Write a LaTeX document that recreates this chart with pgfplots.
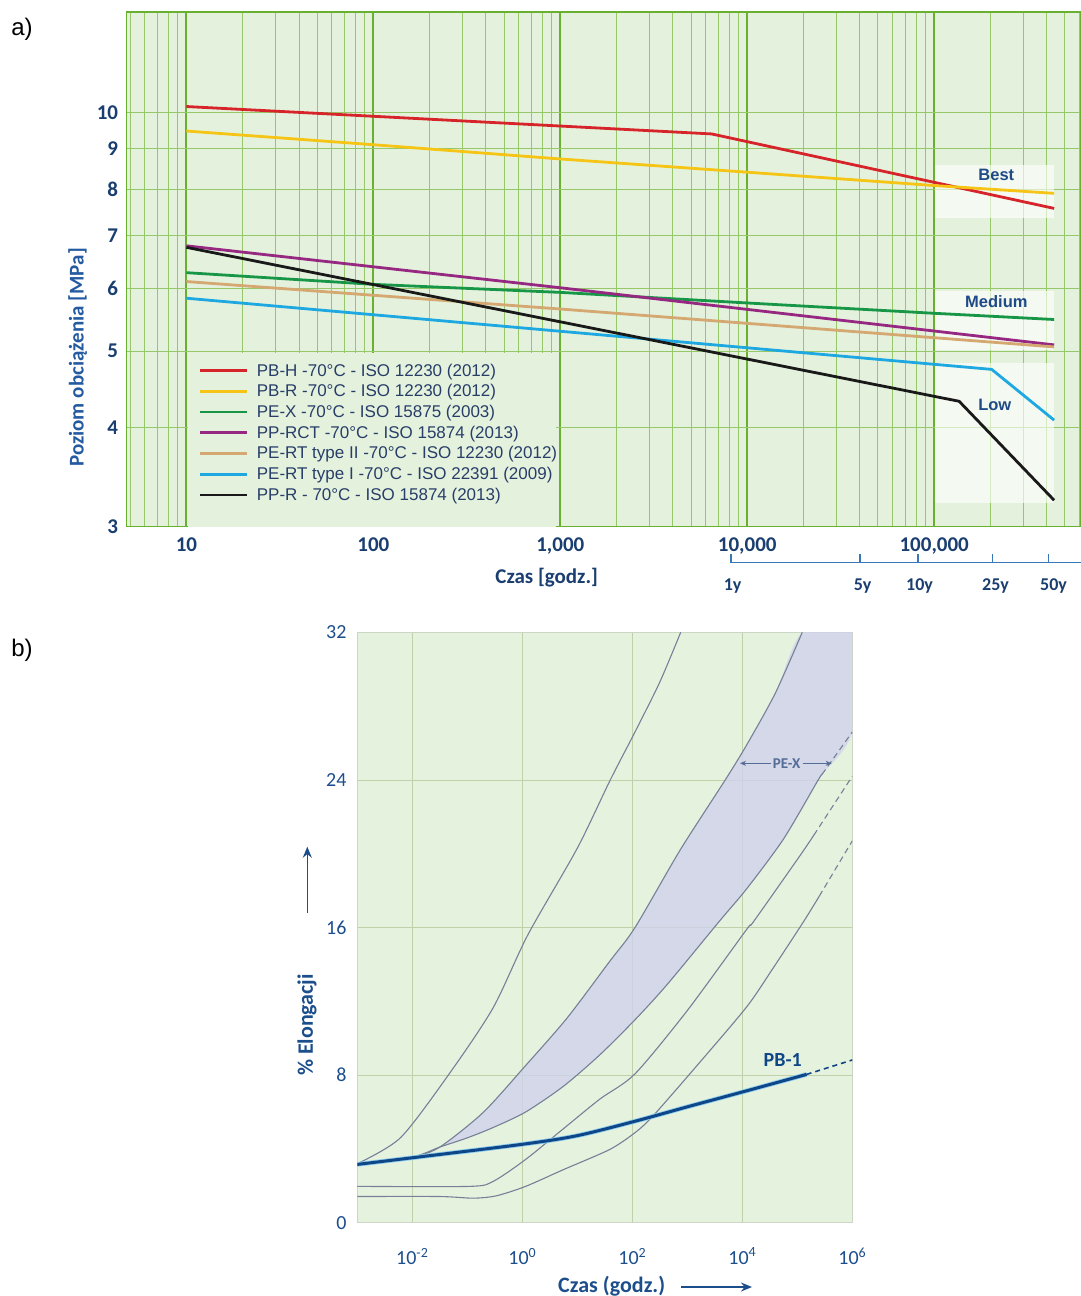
\documentclass[border=0pt]{standalone}
\usepackage{pgfplots}
\pgfplotsset{compat=1.18}
\usepackage{fontspec}
\usetikzlibrary{arrows.meta}
\setmainfont{Liberation Sans}
\newfontfamily\carl{Carlito}

\definecolor{bgA}{RGB}{228,242,221}
\definecolor{gridmin}{RGB}{150,200,105}
\definecolor{gridmaj}{RGB}{105,176,48}
\definecolor{navy}{RGB}{26,62,112}
\definecolor{axblue}{RGB}{35,90,160}
\definecolor{legtext}{RGB}{40,62,105}
\definecolor{lblblue}{RGB}{30,75,135}
\definecolor{yrblue}{RGB}{55,120,185}
\definecolor{cRed}{RGB}{214,36,42}
\definecolor{cYel}{RGB}{245,196,20}
\definecolor{cGrn}{RGB}{22,150,70}
\definecolor{cPur}{RGB}{150,40,130}
\definecolor{cTan}{RGB}{212,168,112}
\definecolor{cCya}{RGB}{30,168,225}
\definecolor{cBlk}{RGB}{25,25,25}
\definecolor{bgB}{RGB}{229,242,222}
\definecolor{gridB}{RGB}{192,208,168}
\definecolor{bordB}{RGB}{205,214,196}
\definecolor{band}{RGB}{208,210,236}
\definecolor{grayc}{RGB}{118,128,152}
\definecolor{pbblue}{RGB}{15,70,135}
\definecolor{pblight}{RGB}{140,205,240}
\definecolor{bblue}{RGB}{28,78,140}
\definecolor{pex}{RGB}{85,108,150}

\begin{document}
\begin{tikzpicture}
\path[use as bounding box] (0,0) rectangle (1081pt,-1296pt);

% ---- a) stress vs time ----
\begin{axis}[
    at={(126.8pt,-526.7pt)}, anchor=south west,
    scale only axis, width=954.2pt, height=514.7pt,
    xmode=log, ymode=log,
    xmin=4.8, xmax=6.1e5, ymin=3, ymax=13.4,
    axis background/.style={fill=bgA},
    axis line style={draw=gridmaj, line width=1.2pt},
    xtick={10,100,1000,10000,100000},
    xticklabels={10,100,{1,000},{10,000},{100,000}},
    minor xtick={5,6,7,8,9,20,30,40,50,60,70,80,90,200,300,400,500,600,700,800,900,
        2000,3000,4000,5000,6000,7000,8000,9000,20000,30000,40000,50000,60000,70000,80000,90000,
        200000,300000,400000,500000,600000},
    ytick={3,4,5,6,7,8,9,10}, yticklabels={3,4,5,6,7,8,9,10},
    minor ytick={},
    xmajorgrids, xminorgrids, ymajorgrids,
    major x grid style={draw=gridmaj, line width=2pt},
    minor x grid style={draw=gridmin, line width=0.9pt},
    major y grid style={draw=gridmin, line width=1pt},
    major tick length=0pt, minor tick length=0pt, tick style={draw=none},
    xticklabel style={font=\carl\bfseries\fontsize{21}{24}\selectfont, text=navy, inner sep=0pt, yshift=-11pt},
    yticklabel style={font=\carl\bfseries\fontsize{21}{24}\selectfont, text=navy, inner sep=0pt, anchor=east, xshift=-8.5pt},
    legend style={at={(axis description cs:0.0757,0.3167)}, anchor=north west,
        draw=none, fill=none, inner sep=0pt, outer sep=0pt,
        row sep=6.9pt, column sep=8pt,
        font=\fontsize{17}{17}\selectfont, text=legtext,
        nodes={inner sep=0pt}},
    legend cell align=left,
    legend image code/.code={\draw[#1] (0pt,0pt) -- (47pt,0pt);},
    every axis plot/.append style={line width=2.8pt, line join=round},
]
% legend panel and highlight boxes
\fill[bgA] (axis cs:10.15,3) rectangle (axis cs:950,4.975);
\fill[white, opacity=0.6] (axis cs:100700,7.358) rectangle (axis cs:435500,8.59);
\fill[white, opacity=0.6] (axis cs:100700,5.015) rectangle (axis cs:435500,5.957);
\fill[white, opacity=0.6] (axis cs:100700,3.214) rectangle (axis cs:435500,4.828);

\addplot[cRed] coordinates {(10,10.18) (6450,9.40) (438000,7.57)};
\addlegendentry{PB-H -70°C - ISO 12230 (2012)}
\addplot[cYel] coordinates {(10,9.48) (100,9.11) (1000,8.74) (10000,8.41) (100000,8.09) (438000,7.91)};
\addlegendentry{PB-R -70°C - ISO 12230 (2012)}
\addplot[cGrn] coordinates {(10,6.28) (100,6.07) (1000,5.93) (10000,5.75) (100000,5.58) (438000,5.48)};
\addlegendentry{PE-X -70°C - ISO 15875 (2003)}
\addplot[cPur] coordinates {(10,6.79) (1000,6.01) (438000,5.09)};
\addlegendentry{PP-RCT -70°C - ISO 15874 (2013)}
\addplot[cTan] coordinates {(10,6.12) (1000,5.65) (438000,5.06)};
\addlegendentry{PE-RT type II -70°C - ISO 12230 (2012)}
\addplot[cCya] coordinates {(10,5.83) (203000,4.74) (438000,4.09)};
\addlegendentry{PE-RT type I -70°C - ISO 22391 (2009)}
\addplot[cBlk] coordinates {(10,6.76) (136000,4.32) (438000,3.24)};
\addlegendentry{PP-R - 70°C - ISO 15874 (2013)}

\node[font=\bfseries\fontsize{16.5}{18}\selectfont, text=lblblue] at (axis cs:215000,8.34) {Best};
\node[font=\bfseries\fontsize{16.5}{18}\selectfont, text=lblblue] at (axis cs:215000,5.77) {Medium};
\node[font=\bfseries\fontsize{16.5}{18}\selectfont, text=lblblue] at (axis cs:211000,4.27) {Low};
\end{axis}

% labels around a)
\node[font=\fontsize{24}{26}\selectfont] at (22pt,-29pt) {a)};
\node[rotate=90, font=\carl\bfseries\fontsize{21}{24}\selectfont, text=axblue] at (77.7pt,-357.5pt) {Poziom obciążenia [MPa]};
\node[font=\carl\bfseries\fontsize{21}{24}\selectfont, text=navy] at (546.7pt,-578pt) {Czas [godz.]};
% years scale
\draw[yrblue, line width=1.4pt] (730.8pt,-562.7pt) -- (1081pt,-562.7pt);
\foreach \xx in {730.8,860,917.8,992.7,1048.3}
  \draw[yrblue, line width=1.4pt] (\xx pt,-562.7pt) -- (\xx pt,-553.7pt);
\foreach \xx/\lab in {732.6/1y,862.6/5y,919.6/10y,995.5/25y,1053.5/50y}
  \node[anchor=base, font=\carl\bfseries\fontsize{18}{20}\selectfont, text=navy] at (\xx pt,-590pt) {\lab};

% ---- b) elongation vs time ----
\begin{axis}[
    at={(357.3pt,-1222.7pt)}, anchor=south west,
    scale only axis, width=495pt, height=590.4pt,
    xmode=log, xmin=1e-3, xmax=1e6, ymin=0, ymax=32,
    axis background/.style={fill=bgB},
    axis line style={draw=bordB, line width=0.8pt},
    xtick={1e-2,1,1e2,1e4,1e6},
    xticklabels={10\textsuperscript{-2},10\textsuperscript{0},10\textsuperscript{2},10\textsuperscript{4},10\textsuperscript{6}},
    minor xtick={},
    ytick={0,8,16,24,32}, yticklabels={0,8,16,24,32},
    xmajorgrids, ymajorgrids,
    major grid style={draw=gridB, line width=0.8pt},
    major tick length=0pt, minor tick length=0pt, tick style={draw=none},
    xticklabel style={font=\carl\fontsize{20}{22}\selectfont, text=bblue, inner sep=0pt, anchor=north, yshift=-25pt},
    yticklabel style={font=\carl\fontsize{20}{22}\selectfont, text=bblue, inner sep=0pt, anchor=east, xshift=-10.6pt},
    gc/.style={draw=grayc, line width=1.1pt, line join=round, smooth, tension=0.45},
    gd/.style={draw=grayc, line width=1.1pt, dash pattern=on 6pt off 4pt},
]
% PE-X band
\addplot[fill=band, fill opacity=0.8, draw=none, smooth, tension=0.45] coordinates {
  (0.0316,4.1) (0.195,5.98) (1.15,8.52) (6.46,11.08) (38.9,14.17) (112,16.0) (741,20.2)
  (4898,24.0) (12020,25.9) (39810,28.7) (123000,32.0) (1e6,32) (1e6,26.6)
  (281800,24.3) (239900,24.0) (56230,20.8) (12020,18.1) (3981,16.4) (427,12.9)
  (112,11.0) (25.7,9.1) (5.62,7.4) (1.15,6.0) (0.295,5.16) (0.1,4.6) (0.0316,4.1)};
% curve A
\addplot[gc] coordinates {(0.001,3.2) (0.00617,4.62) (0.049,8.15) (0.295,11.65) (1.26,15.6)
  (10,20.3) (39.8,24.0) (112,26.6) (316,29.3) (759,32.0)};
% curve B (upper edge of band)
\addplot[gc] coordinates {(0.001,3.2) (0.01,3.56) (0.0316,4.1) (0.195,5.98) (1.15,8.52) (6.46,11.08)
  (38.9,14.17) (112,16.0) (741,20.2) (4898,24.0) (12020,25.9) (39810,28.7) (123000,32.0)};
% curve C (lower edge of band)
\addplot[gc] coordinates {(0.001,3.2) (0.01,3.56) (0.0316,4.1) (0.1,4.6) (0.295,5.16) (1.15,6.0)
  (5.62,7.4) (25.7,9.1) (112,11.0) (427,12.9) (3981,16.4) (12020,18.1) (56230,20.8)
  (239900,24.0) (281800,24.3)};
\addplot[gd] coordinates {(281800,24.3) (1e6,26.6)};
% curve D
\addplot[gc] coordinates {(0.001,1.97) (0.112,1.97) (0.295,2.24) (1.15,3.43) (5.62,5.1) (25.7,6.7)
  (112,8.07) (1000,11.5) (12020,15.9) (15850,16.3) (112200,19.9) (199500,21.0)};
\addplot[gd] coordinates {(199500,21.0) (1e6,24.2)};
% curve E
\addplot[gc] coordinates {(0.001,1.42) (0.0316,1.42) (0.129,1.33) (0.339,1.46) (1.15,1.97) (5.62,2.88)
  (38.9,3.97) (112,4.88) (240,5.8) (1585,8.6) (12020,11.7) (36310,13.8) (128800,16.3) (251200,17.7)};
\addplot[gd] coordinates {(251200,17.7) (1e6,20.7)};
% PB-1
\addplot[draw=pblight, line width=4.6pt, line join=round, smooth, tension=0.5] coordinates {(0.001,3.16) (0.01,3.52) (1,4.25)
  (10,4.72) (112,5.5) (1000,6.28) (12020,7.15) (147900,8.04)};
\addplot[draw=pbblue, line width=3pt, line join=round, smooth, tension=0.5] coordinates {(0.001,3.16) (0.01,3.52) (1,4.25)
  (10,4.72) (112,5.5) (1000,6.28) (12020,7.15) (147900,8.04)};
\addplot[draw=pbblue, line width=1.6pt, dash pattern=on 5pt off 4pt] coordinates {(147900,8.04) (1e6,8.82)};

\node[font=\carl\bfseries\fontsize{20}{22}\selectfont, text=pbblue] at (axis cs:54300,8.82) {PB-1};
\node[font=\carl\bfseries\fontsize{15}{17}\selectfont, text=pex, inner sep=2pt] (pexl) at (axis cs:64100,24.9) {PE-X};
\draw[pex, line width=1pt, -{Stealth[length=6pt,width=5pt]}] (pexl.west) -- (axis cs:9080,24.9);
\draw[pex, line width=1pt, -{Stealth[length=6pt,width=5pt]}] (pexl.east) -- (axis cs:421700,24.9);
\end{axis}

\node[font=\fontsize{24}{26}\selectfont] at (22pt,-650pt) {b)};
\node[rotate=90, font=\carl\bfseries\fontsize{22}{24}\selectfont, text=bblue] at (307pt,-1025pt) {\% Elongacji};
\draw[bblue, line width=1.6pt, -{Stealth[length=11pt,width=9pt]}] (307.3pt,-913pt) -- (307.3pt,-846.7pt);
\node[font=\carl\bfseries\fontsize{22}{24}\selectfont, text=bblue] at (611.7pt,-1286pt) {Czas (godz.)};
\draw[bblue, line width=1.6pt, -{Stealth[length=11pt,width=9pt]}] (681pt,-1287pt) -- (752pt,-1287pt);
\end{tikzpicture}
\end{document}
